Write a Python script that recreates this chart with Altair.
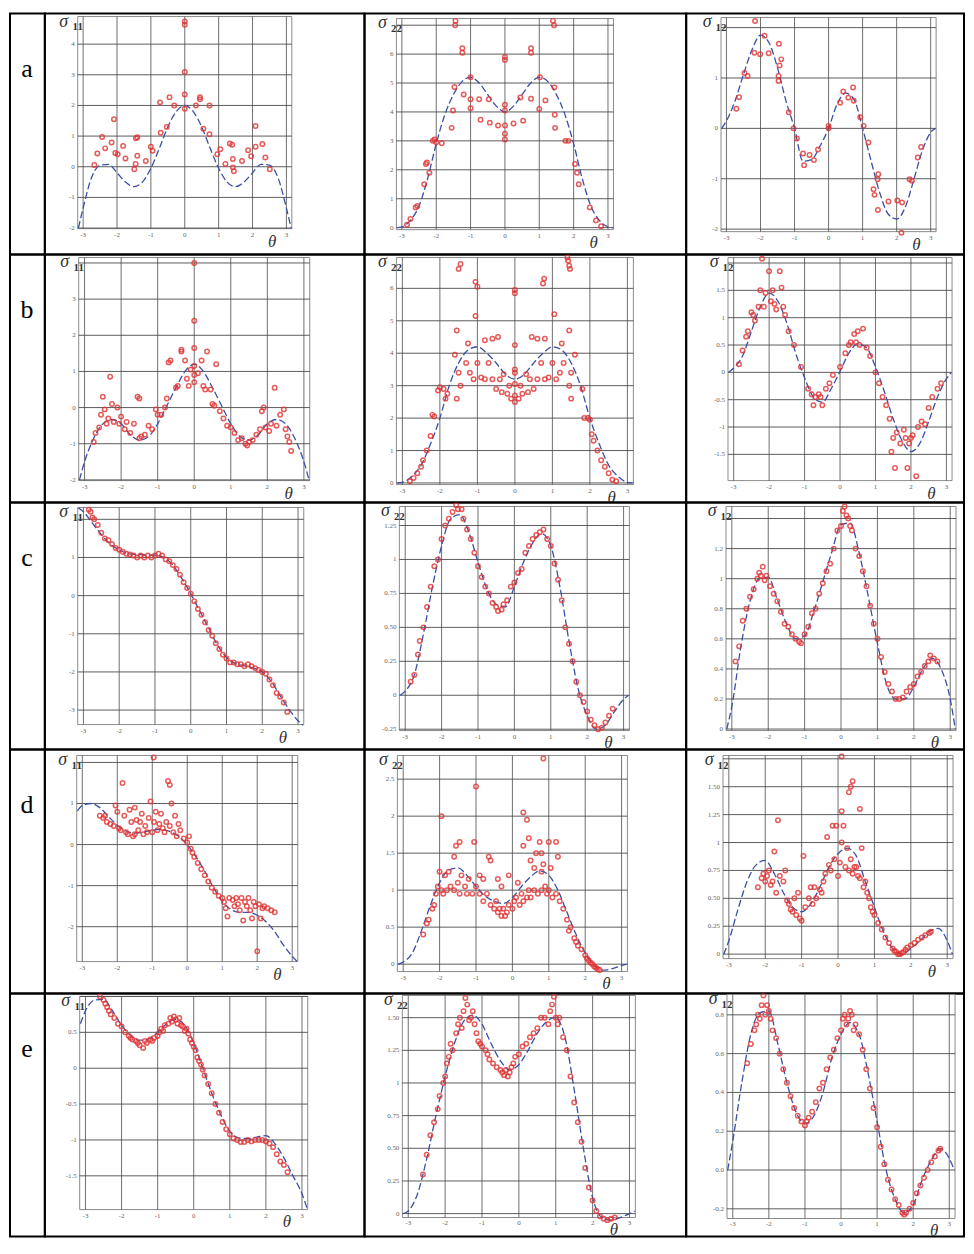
import altair as alt
import pandas as pd

SERIF = "Liberation Serif"
ROW_LETTERS = ["a", "b", "c", "d", "e"]
COMPONENTS = ["11", "22", "12"]
X_TICKS = [-3, -2, -1, 0, 1, 2, 3]
X_LABELS = ["-3", "-2", "-1", "0", "1", "2", "3"]
CURVE_T = [-3.14, -3.0, -2.75, -2.5, -2.25, -2.0, -1.75, -1.5, -1.25, -1.0, -0.75, -0.5, -0.25, 0.0,
           0.25, 0.5, 0.75, 1.0, 1.25, 1.5, 1.75, 2.0, 2.25, 2.5, 2.75, 3.0, 3.14]

# ---------------- dashed reference curves (values at CURVE_T) ----------------
A11_CURVE = [-2.0, -1.35, -0.35, 0.05, 0.08, -0.2, -0.5, -0.65, -0.5, -0.05, 0.6, 1.3, 1.8, 2.0, 1.8, 1.3, 0.6, -0.05, -0.5, -0.65, -0.5, -0.2, 0.08, 0.05, -0.35, -1.35, -2.0]
A22_CURVE = [0, 0.03, 0.25, 0.75, 1.7, 2.9, 3.9, 4.6, 5.05, 5.2, 5.0, 4.6, 4.2, 4.0, 4.2, 4.6, 5.0, 5.2, 5.05, 4.6, 3.9, 2.9, 1.7, 0.75, 0.25, 0.03, 0]
A12_CURVE = [0, 0.15, 0.54, 1.07, 1.56, 1.85, 1.7, 1.2, 0.54, 0.0, -0.65, -0.62, -0.35, 0.0, 0.48, 0.7, 0.57, 0.0, -0.65, -1.27, -1.7, -1.8, -1.57, -1.03, -0.45, -0.08, 0]
B11_CURVE = [-2.0, -1.5, -0.85, -0.45, -0.33, -0.45, -0.75, -0.9, -0.8, -0.45, 0.05, 0.55, 1.0, 1.2, 1.0, 0.55, 0.05, -0.45, -0.8, -0.9, -0.75, -0.45, -0.33, -0.45, -0.85, -1.5, -2.0]
B22_CURVE = [0, 0.02, 0.2, 0.55, 1.2, 2.0, 3.0, 3.7, 4.1, 4.2, 4.0, 3.7, 3.35, 3.2, 3.35, 3.7, 4.0, 4.2, 4.1, 3.7, 3.0, 2.0, 1.2, 0.55, 0.2, 0.02, 0]
B12_CURVE = [0, 0.08, 0.3, 0.75, 1.2, 1.45, 1.3, 0.9, 0.35, -0.1, -0.45, -0.55, -0.3, 0.02, 0.35, 0.52, 0.45, 0.1, -0.35, -0.85, -1.25, -1.45, -1.3, -0.9, -0.45, -0.12, 0]
C11_CURVE = [2.3, 2.2, 1.9, 1.6, 1.35, 1.2, 1.1, 1.08, 1.07, 1.06, 1.0, 0.8, 0.45, 0.05, -0.4, -0.85, -1.3, -1.62, -1.78, -1.84, -1.9, -2.0, -2.25, -2.62, -2.98, -3.28, -3.4]
C22_CURVE = [0, 0.03, 0.15, 0.45, 0.8, 1.1, 1.3, 1.33, 1.2, 0.98, 0.78, 0.67, 0.65, 0.8, 0.98, 1.12, 1.19, 1.1, 0.8, 0.4, 0.05, -0.15, -0.25, -0.22, -0.12, -0.03, 0]
C12_CURVE = [0, 0.15, 0.55, 0.85, 1.0, 1.01, 0.86, 0.7, 0.6, 0.62, 0.78, 0.98, 1.18, 1.36, 1.37, 1.17, 0.88, 0.57, 0.3, 0.2, 0.2, 0.28, 0.4, 0.47, 0.4, 0.2, 0]
D11_CURVE = [0.82, 0.95, 1.0, 0.9, 0.68, 0.47, 0.33, 0.28, 0.3, 0.35, 0.37, 0.32, 0.2, 0.0, -0.3, -0.65, -1.05, -1.38, -1.58, -1.65, -1.65, -1.72, -1.88, -2.12, -2.45, -2.72, -2.85]
D22_CURVE = [0, 0.03, 0.15, 0.45, 0.8, 1.1, 1.27, 1.3, 1.2, 1.05, 0.92, 0.85, 0.82, 0.9, 1.05, 1.18, 1.26, 1.2, 1.0, 0.7, 0.4, 0.15, -0.02, -0.08, -0.06, -0.02, 0]
D12_CURVE = [0, 0.12, 0.4, 0.65, 0.8, 0.84, 0.72, 0.55, 0.42, 0.38, 0.45, 0.6, 0.78, 0.9, 0.95, 0.88, 0.65, 0.42, 0.2, 0.05, 0.0, 0.05, 0.12, 0.2, 0.23, 0.12, 0]
E11_CURVE = [0.62, 0.8, 0.95, 0.96, 0.8, 0.6, 0.46, 0.39, 0.41, 0.5, 0.62, 0.68, 0.6, 0.35, 0.0, -0.35, -0.65, -0.88, -0.97, -0.98, -0.96, -0.94, -1.05, -1.25, -1.5, -1.75, -1.95]
E22_CURVE = [0, 0.02, 0.15, 0.42, 0.75, 1.05, 1.3, 1.47, 1.52, 1.45, 1.3, 1.17, 1.1, 1.14, 1.25, 1.38, 1.47, 1.5, 1.35, 0.95, 0.5, 0.12, -0.03, -0.05, -0.03, 0.0, 0.02]
E12_CURVE = [0, 0.15, 0.45, 0.7, 0.81, 0.82, 0.65, 0.45, 0.3, 0.24, 0.28, 0.4, 0.58, 0.7, 0.76, 0.7, 0.5, 0.25, 0.0, -0.15, -0.22, -0.18, -0.05, 0.05, 0.11, 0.06, 0]

# ---------------- scattered estimates (theta, sigma) ----------------
A11_PTS = [(-2.67, 0.06), (-2.58, 0.43), (-2.44, 0.97), (-2.35, 0.6), (-2.16, 0.79), (-2.09, 1.55), (-2.05, 0.45), (-1.98, 0.41),
           (-1.82, 0.68), (-1.75, 0.27), (-1.44, 0.93), (-1.4, 0.96), (-1.4, 0.36), (-1.45, 0.09), (-1.49, -0.08), (-1.15, 0.19),
           (-1.0, 0.65), (-0.95, 0.52), (-0.71, 1.11), (-0.73, 2.1), (-0.53, 1.3), (-0.45, 2.27), (-0.31, 2.0), (0, 4.74), (0, 4.63),
           (0, 3.09), (0, 2.36), (0, 1.89), (0.33, 2.0), (0.45, 2.27), (0.45, 2.2), (0.55, 1.24), (0.73, 1.06), (0.73, 2.0),
           (0.96, 0.41), (1.05, 0.57), (1.2, 0.09), (1.33, 0.76), (1.4, 0.72), (1.42, 0.25), (1.42, -0.02), (1.45, -0.15),
           (1.69, 0.19), (1.87, 0.54), (1.96, 0.34), (2.09, 0.65), (2.09, 1.33), (2.29, 0.74), (2.38, 0.3), (2.51, -0.08)]
A22_PTS = [(-2.85, 0.1), (-2.75, 0.3), (-2.6, 0.7), (-2.55, 0.75), (-2.35, 1.5), (-2.3, 2.2), (-2.27, 2.25), (-2.2, 1.9), (-2.1, 3.0),
           (-2.05, 3.05), (-2.0, 2.95), (-1.84, 2.92), (-1.55, 3.45), (-1.51, 4.05), (-1.47, 4.86), (-1.45, 7.0), (-1.44, 7.15),
           (-1.24, 6.2), (-1.24, 6.05), (-1.2, 4.6), (-1.0, 4.13), (-1.0, 4.44), (-1.0, 5.2), (-0.75, 4.44), (-0.71, 3.73),
           (-0.47, 4.44), (-0.44, 3.63), (-0.2, 3.53), (0, 5.9), (0, 5.8), (0, 4.25), (0, 4.05), (0, 3.53), (0, 3.25), (0, 3.05),
           (0.25, 3.6), (0.45, 4.5), (0.53, 3.7), (0.76, 6.2), (0.76, 6.05), (0.76, 4.46), (1.0, 4.1), (1.02, 5.2), (1.18, 4.4),
           (1.4, 7.15), (1.43, 7.0), (1.44, 4.85), (1.45, 3.9), (1.46, 3.45), (1.76, 3.0), (1.85, 3.0), (2.04, 2.2), (2.1, 1.9),
           (2.15, 1.5), (2.47, 0.7), (2.65, 0.25), (2.8, 0.05)]
A12_PTS = [(-2.71, 0.39), (-2.63, 0.62), (-2.47, 1.1), (-2.38, 1.04), (-2.18, 1.5), (-2.16, 2.13), (-2.01, 1.47), (-1.88, 1.84),
           (-1.76, 1.49), (-1.46, 1.68), (-1.44, 1.25), (-1.39, 1.37), (-1.47, 1.04), (-1.47, 0.94), (-1.17, 0.32), (-1.03, 0.0),
           (-0.93, -0.2), (-0.75, -0.5), (-0.72, -0.73), (-0.56, -0.53), (-0.43, -0.63), (-0.31, -0.42), (0, 0.05), (0, 0.0),
           (0.34, 0.51), (0.43, 0.73), (0.58, 0.61), (0.72, 0.81), (0.74, 0.55), (0.93, 0.22), (1.03, 0.05), (1.17, -0.28),
           (1.32, -1.21), (1.35, -1.32), (1.44, -1.01), (1.46, -0.91), (1.45, -1.62), (1.76, -1.45), (2.02, -1.43), (2.16, -1.47),
           (2.14, -2.07), (2.38, -1.01), (2.45, -1.04), (2.62, -0.58), (2.72, -0.37)]
B11_PTS = [(-2.7, -0.7), (-2.75, -0.95), (-2.6, -0.55), (-2.55, -0.2), (-2.5, 0.3), (-2.45, -0.05), (-2.4, -0.45), (-2.35, -0.3),
           (-2.3, 0.85), (-2.25, 0.1), (-2.2, -0.4), (-2.1, 0.0), (-2.05, -0.45), (-2.0, -0.25), (-1.9, -0.6), (-1.85, -0.4),
           (-1.75, -0.7), (-1.65, -0.45), (-1.55, 0.3), (-1.5, 0.25), (-1.5, -0.85), (-1.45, -0.8), (-1.35, -0.75), (-1.25, -0.5),
           (-1.15, -0.6), (-1.05, -0.05), (-1.0, -0.2), (-0.9, -0.2), (-0.8, 0.0), (-0.75, 0.25), (-0.7, 1.25), (-0.65, 1.3),
           (-0.5, 0.55), (-0.45, 0.6), (-0.35, 1.55), (-0.35, 1.6), (-0.25, 1.3), (-0.2, 0.8), (-0.15, 0.6), (-0.1, 1.05),
           (0, 4.0), (0, 2.4), (0, 1.65), (0, 1.15), (0, 0.9), (0, 0.7), (0.1, 0.95), (0.2, 1.3), (0.25, 0.6), (0.3, 0.5),
           (0.35, 1.55), (0.45, 0.5), (0.5, 0.1), (0.55, 0.05), (0.6, 1.2), (0.7, -0.1), (0.8, -0.3), (0.9, -0.5), (1.0, -0.55),
           (1.1, -0.7), (1.2, -0.9), (1.3, -0.85), (1.4, -1.0), (1.45, -1.05), (1.5, -0.95), (1.6, -0.9), (1.7, -0.75),
           (1.8, -0.6), (1.85, -0.1), (1.9, 0.0), (1.95, -0.55), (2.05, -0.65), (2.1, -0.45), (2.2, 0.55), (2.25, -0.5),
           (2.35, -0.2), (2.45, -0.05), (2.5, -0.6), (2.55, -0.8), (2.6, -0.95), (2.65, -1.2)]
B22_PTS = [(-1.5, 6.6), (-1.45, 6.75), (-1.05, 6.2), (-1.0, 6.05), (0, 5.95), (0, 5.85), (0.75, 6.15), (0.78, 6.3), (1.4, 6.95),
           (1.42, 6.85), (1.45, 6.7), (1.47, 6.6), (-1.55, 4.7), (-1.05, 5.15), (1.05, 5.2), (1.45, 4.7), (-0.6, 4.45),
           (-0.45, 4.5), (0, 4.25), (0.45, 4.5), (0.6, 4.45), (-1.25, 4.3), (1.25, 4.3), (-0.8, 4.4), (0.8, 4.45),
           (-1.6, 3.95), (-1.5, 3.4), (-1.45, 3.0), (-1.3, 3.7), (-1.2, 3.4), (-1.1, 3.2), (-1.0, 3.7), (-0.9, 3.25), (-0.8, 3.2),
           (-0.7, 3.7), (-0.6, 3.2), (-0.5, 2.9), (-0.4, 3.2), (-0.35, 2.8), (-0.3, 3.35), (-0.2, 2.75), (-0.15, 3.0), (-0.1, 2.6),
           (0, 3.5), (0, 3.4), (0, 3.05), (0, 2.7), (0, 2.5), (0.1, 2.6), (0.15, 3.0), (0.2, 2.75), (0.3, 3.35), (0.35, 2.8),
           (0.4, 3.2), (0.5, 2.9), (0.6, 3.2), (0.7, 3.7), (0.8, 3.2), (0.9, 3.25), (1.0, 3.7), (1.1, 3.2), (1.2, 3.4), (1.3, 3.7),
           (1.45, 3.0), (1.5, 3.4), (1.6, 3.95), (1.5, 2.6), (-1.55, 2.6), (-2.8, 0.05), (-2.7, 0.15), (-2.6, 0.3), (-2.5, 0.5),
           (-2.45, 0.7), (-2.35, 1.0), (-2.25, 1.45), (-2.2, 2.1), (-2.15, 2.05), (-2.05, 2.85), (-2.0, 2.95), (-1.9, 2.9),
           (-1.85, 2.6), (-1.8, 2.75), (1.8, 2.9), (1.85, 2.0), (1.95, 2.0), (2.0, 1.95), (2.05, 1.5), (2.1, 1.3), (2.2, 1.0),
           (2.3, 0.7), (2.4, 0.5), (2.5, 0.3), (2.6, 0.1), (2.7, 0.05)]
B12_PTS = [(-2.85, 0.15), (-2.75, 0.4), (-2.65, 0.65), (-2.6, 0.75), (-2.5, 1.1), (-2.45, 1.05), (-2.4, 0.95), (-2.3, 1.2),
           (-2.25, 1.5), (-2.2, 2.08), (-2.15, 1.2), (-2.1, 1.45), (-2.0, 1.85), (-1.95, 1.3), (-1.9, 1.5), (-1.85, 1.25),
           (-1.8, 1.15), (-1.7, 1.85), (-1.65, 1.55), (-1.6, 1.2), (-1.55, 1.05), (-1.45, 0.75), (-1.3, 0.5), (-1.1, 0.1),
           (-0.9, -0.3), (-0.8, -0.4), (-0.75, -0.6), (-0.7, -0.45), (-0.6, -0.4), (-0.55, -0.45), (-0.5, -0.6), (-0.4, -0.3),
           (-0.3, -0.2), (-0.2, -0.05), (0, 0.1), (0.15, 0.35), (0.25, 0.5), (0.3, 0.55), (0.4, 0.7), (0.45, 0.55), (0.5, 0.75),
           (0.55, 0.5), (0.65, 0.8), (0.75, 0.45), (0.85, 0.3), (1.0, 0.0), (1.1, -0.2), (1.2, -0.45), (1.3, -0.6), (1.4, -0.85),
           (1.45, -1.45), (1.5, -1.2), (1.55, -1.75), (1.6, -1.1), (1.7, -1.3), (1.8, -1.05), (1.85, -1.2), (1.9, -1.75),
           (1.95, -1.3), (2.0, -1.2), (2.05, -1.15), (2.15, -1.9), (2.2, -1.0), (2.3, -0.9), (2.4, -0.95), (2.5, -0.65),
           (2.6, -0.45), (2.75, -0.3), (2.85, -0.2)]
C11_PTS = [(-2.85, 2.25), (-2.8, 2.2), (-2.75, 2.05), (-2.7, 2.0), (-2.6, 1.85), (-2.5, 1.65), (-2.4, 1.5), (-2.3, 1.45), (-2.2, 1.35),
           (-2.1, 1.25), (-2.0, 1.2), (-1.9, 1.15), (-1.8, 1.1), (-1.7, 1.08), (-1.6, 1.05), (-1.5, 1.0), (-1.4, 1.05), (-1.3, 1.0),
           (-1.2, 1.05), (-1.1, 1.0), (-1.0, 1.05), (-0.9, 1.1), (-0.8, 1.05), (-0.7, 0.95), (-0.6, 0.9), (-0.5, 0.8), (-0.4, 0.7),
           (-0.3, 0.55), (-0.2, 0.35), (-0.1, 0.2), (0.0, 0.05), (0.1, -0.15), (0.2, -0.35), (0.3, -0.5), (0.4, -0.7), (0.5, -0.9),
           (0.6, -1.05), (0.7, -1.25), (0.8, -1.4), (0.9, -1.55), (1.0, -1.65), (1.1, -1.75), (1.2, -1.75), (1.3, -1.8), (1.4, -1.8),
           (1.5, -1.85), (1.6, -1.8), (1.7, -1.85), (1.8, -1.9), (1.9, -1.95), (2.0, -2.0), (2.1, -2.05), (2.2, -2.2), (2.3, -2.35),
           (2.4, -2.55), (2.5, -2.65), (2.6, -2.8), (2.7, -3.05)]
C22_PTS = [(-2.85, 0.1), (-2.75, 0.15), (-2.65, 0.3), (-2.6, 0.4), (-2.5, 0.5), (-2.4, 0.65), (-2.3, 0.8), (-2.2, 0.95), (-2.1, 1.0),
           (-2.0, 1.15), (-1.9, 1.25), (-1.8, 1.3), (-1.7, 1.35), (-1.6, 1.4), (-1.55, 1.37), (-1.45, 1.37), (-1.4, 1.3), (-1.3, 1.22),
           (-1.2, 1.15), (-1.1, 1.05), (-1.0, 0.95), (-0.9, 0.87), (-0.8, 0.8), (-0.7, 0.75), (-0.6, 0.68), (-0.5, 0.65), (-0.45, 0.62),
           (-0.35, 0.63), (-0.3, 0.67), (-0.2, 0.7), (-0.1, 0.8), (0, 0.83), (0.1, 0.9), (0.2, 0.93), (0.3, 1.05), (0.4, 1.1),
           (0.5, 1.15), (0.6, 1.18), (0.7, 1.2), (0.8, 1.22), (0.9, 1.15), (1.0, 1.1), (1.1, 0.97), (1.2, 0.85), (1.3, 0.7),
           (1.4, 0.5), (1.5, 0.38), (1.6, 0.25), (1.7, 0.1), (1.8, 0.0), (1.9, -0.05), (2.0, -0.12), (2.1, -0.18), (2.2, -0.22),
           (2.3, -0.25), (2.4, -0.24), (2.5, -0.2), (2.6, -0.15), (2.7, -0.1)]
C12_PTS = [(-2.9, 0.45), (-2.8, 0.55), (-2.7, 0.72), (-2.6, 0.8), (-2.5, 0.88), (-2.4, 0.93), (-2.3, 1.0), (-2.25, 1.04), (-2.2, 1.02),
           (-2.15, 1.08), (-2.1, 0.99), (-2.05, 1.02), (-1.95, 0.95), (-1.85, 0.9), (-1.75, 0.85), (-1.65, 0.78), (-1.55, 0.7),
           (-1.45, 0.68), (-1.35, 0.63), (-1.25, 0.6), (-1.15, 0.58), (-1.1, 0.57), (-1.0, 0.63), (-0.9, 0.68), (-0.8, 0.77),
           (-0.7, 0.8), (-0.6, 0.9), (-0.5, 0.97), (-0.4, 1.05), (-0.3, 1.1), (-0.2, 1.2), (-0.1, 1.32), (0.0, 1.35), (0.05, 1.45),
           (0.1, 1.48), (0.15, 1.42), (0.2, 1.4), (0.25, 1.35), (0.3, 1.32), (0.4, 1.2), (0.5, 1.15), (0.6, 1.05), (0.7, 0.95),
           (0.8, 0.82), (0.9, 0.7), (1.0, 0.6), (1.1, 0.48), (1.2, 0.38), (1.3, 0.3), (1.4, 0.25), (1.5, 0.2), (1.6, 0.2),
           (1.7, 0.21), (1.8, 0.25), (1.9, 0.28), (2.0, 0.3), (2.1, 0.35), (2.2, 0.38), (2.3, 0.42), (2.4, 0.45), (2.45, 0.49),
           (2.55, 0.47), (2.65, 0.45)]
D11_PTS = [(-2.5, 0.7), (-2.4, 0.65), (-2.35, 0.7), (-2.3, 0.55), (-2.2, 0.5), (-2.1, 0.45), (-2.05, 0.95), (-2.0, 0.8), (-1.95, 0.4),
           (-1.9, 0.35), (-1.85, 1.5), (-1.8, 0.7), (-1.75, 0.3), (-1.7, 0.25), (-1.65, 0.85), (-1.6, 0.55), (-1.55, 0.2), (-1.5, 0.9),
           (-1.5, 0.25), (-1.45, 0.6), (-1.4, 0.35), (-1.35, 0.55), (-1.3, 0.75), (-1.25, 0.25), (-1.2, 0.45), (-1.15, 0.3),
           (-1.1, 0.65), (-1.05, 1.05), (-1.0, 0.3), (-0.96, 2.12), (-0.95, 0.55), (-0.9, 0.8), (-0.85, 0.35), (-0.8, 0.5),
           (-0.75, 0.75), (-0.7, 0.4), (-0.65, 0.3), (-0.6, 0.55), (-0.55, 1.55), (-0.5, 1.45), (-0.5, 0.45), (-0.45, 1.0),
           (-0.4, 0.3), (-0.35, 0.7), (-0.3, 0.2), (-0.25, 0.5), (-0.2, 0.35), (-0.1, 0.15), (0.0, 0.05), (0.05, 0.2), (0.1, -0.1),
           (0.15, -0.2), (0.2, -0.3), (0.3, -0.45), (0.4, -0.6), (0.5, -0.75), (0.6, -0.9), (0.7, -1.05), (0.8, -1.15), (0.9, -1.25),
           (1.0, -1.3), (1.05, -1.4), (1.1, -1.55), (1.15, -1.75), (1.2, -1.3), (1.3, -1.35), (1.35, -1.5), (1.4, -1.3), (1.45, -1.45),
           (1.5, -1.6), (1.55, -1.3), (1.6, -1.85), (1.65, -1.4), (1.7, -1.5), (1.75, -1.3), (1.8, -1.6), (1.85, -1.8), (1.9, -1.4),
           (1.95, -1.5), (2.0, -2.6), (2.05, -1.45), (2.1, -1.8), (2.15, -1.55), (2.2, -1.5), (2.3, -1.55), (2.4, -1.6), (2.5, -1.65)]
D22_PTS = [(-1.95, 2.0), (-1.6, 1.45), (-1.55, 1.6), (-1.45, 1.65), (-1.05, 1.65), (-1.0, 2.4), (-0.65, 1.45), (-0.6, 1.4), (-0.1, 1.2),
           (0.15, 1.1), (0.3, 1.6), (0.3, 2.05), (0.4, 1.95), (0.45, 1.7), (0.5, 1.4), (0.6, 1.3), (0.65, 1.5), (0.85, 2.78),
           (0.75, 1.65), (0.8, 1.5), (0.85, 1.35), (1.0, 1.65), (1.05, 1.3), (1.2, 1.65), (1.25, 1.45), (0.8, 1.25), (-0.9, 1.2),
           (-0.8, 1.15), (-0.4, 1.15), (-0.3, 1.05), (-2.45, 0.4), (-2.35, 0.55), (-2.3, 0.6), (-2.2, 0.75), (-2.15, 0.8), (-2.1, 0.95),
           (-2.05, 1.05), (-2.0, 1.25), (-1.95, 1.0), (-1.9, 0.95), (-1.85, 1.2), (-1.8, 1.0), (-1.75, 1.25), (-1.7, 1.05), (-1.6, 1.0),
           (-1.5, 1.1), (-1.45, 0.95), (-1.4, 1.2), (-1.3, 1.05), (-1.25, 0.95), (-1.2, 1.15), (-1.1, 0.95), (-1.0, 1.05), (-0.9, 0.95),
           (-0.8, 0.85), (-0.7, 0.95), (-0.6, 0.8), (-0.5, 0.75), (-0.45, 0.85), (-0.4, 0.7), (-0.35, 0.75), (-0.3, 0.65), (-0.25, 0.75),
           (-0.2, 0.65), (-0.15, 0.7), (-0.1, 0.8), (0.0, 0.75), (0.05, 0.85), (0.1, 0.9), (0.2, 0.8), (0.25, 0.95), (0.3, 0.85),
           (0.4, 0.9), (0.45, 1.0), (0.5, 0.9), (0.6, 1.0), (0.7, 0.95), (0.8, 1.0), (0.9, 1.05), (0.95, 0.95), (1.0, 1.0), (1.1, 0.9),
           (1.2, 0.95), (1.3, 0.85), (1.4, 0.75), (1.5, 0.6), (1.55, 0.45), (1.6, 0.5), (1.7, 0.35), (1.75, 0.3), (1.8, 0.25),
           (1.9, 0.2), (2.0, 0.12), (2.05, 0.08), (2.1, 0.05), (2.15, 0.02), (2.2, 0.0), (2.25, -0.03), (2.3, -0.05), (2.35, -0.07),
           (2.4, -0.08)]
D12_PTS = [(-2.2, 0.6), (-2.1, 0.68), (-2.05, 0.72), (-2.0, 0.65), (-1.95, 0.7), (-1.9, 0.75), (-1.85, 0.62), (-1.8, 0.65), (-1.75, 0.92),
           (-1.7, 0.55), (-1.65, 1.2), (-1.6, 0.7), (-1.5, 0.65), (-1.45, 0.75), (-1.4, 0.48), (-1.35, 0.45), (-1.3, 0.4), (-1.25, 0.38),
           (-1.2, 0.5), (-1.15, 0.35), (-1.1, 0.55), (-1.05, 0.32), (-1.0, 0.3), (-0.95, 0.88), (-0.9, 0.42), (-0.8, 0.5), (-0.75, 0.6),
           (-0.7, 0.45), (-0.65, 0.6), (-0.6, 0.5), (-0.5, 0.58), (-0.45, 0.55), (-0.4, 0.65), (-0.35, 0.72), (-0.3, 1.05), (-0.25, 0.8),
           (-0.2, 0.75), (-0.15, 1.15), (-0.1, 0.85), (-0.05, 1.15), (0.0, 0.7), (0.05, 0.82), (0.1, 1.28), (0.1, 1.0), (0.1, 1.77),
           (0.15, 1.15), (0.2, 0.78), (0.25, 0.95), (0.3, 1.45), (0.35, 1.5), (0.4, 1.55), (0.3, 0.75), (0.35, 0.85), (0.4, 0.72),
           (0.45, 0.78), (0.5, 0.78), (0.55, 0.7), (0.6, 1.3), (0.6, 0.68), (0.65, 0.95), (0.7, 0.6), (0.75, 0.65), (0.8, 0.55),
           (0.85, 0.5), (0.9, 0.42), (0.95, 0.38), (1.0, 0.35), (1.1, 0.28), (1.2, 0.22), (1.3, 0.15), (1.4, 0.1), (1.5, 0.05),
           (1.55, 0.03), (1.6, 0.02), (1.65, 0.0), (1.7, 0.0), (1.75, 0.01), (1.8, 0.02), (1.85, 0.04), (1.9, 0.06), (2.0, 0.08),
           (2.1, 0.1), (2.2, 0.13), (2.3, 0.15), (2.4, 0.17), (2.5, 0.19), (2.55, 0.2)]
E11_PTS = [(-2.6, 1.0), (-2.5, 0.95), (-2.45, 0.9), (-2.4, 0.85), (-2.35, 0.8), (-2.3, 0.75), (-2.2, 0.7), (-2.1, 0.62), (-2.0, 0.58),
           (-1.9, 0.5), (-1.8, 0.45), (-1.75, 0.42), (-1.7, 0.4), (-1.6, 0.38), (-1.55, 0.35), (-1.5, 0.32), (-1.4, 0.28), (-1.35, 0.38),
           (-1.3, 0.35), (-1.2, 0.4), (-1.15, 0.38), (-1.1, 0.42), (-1.0, 0.45), (-0.95, 0.5), (-0.9, 0.55), (-0.85, 0.52), (-0.8, 0.6),
           (-0.7, 0.62), (-0.65, 0.7), (-0.6, 0.65), (-0.55, 0.72), (-0.5, 0.68), (-0.45, 0.62), (-0.4, 0.7), (-0.35, 0.6), (-0.3, 0.58),
           (-0.25, 0.52), (-0.2, 0.55), (-0.15, 0.48), (-0.1, 0.4), (-0.05, 0.35), (0.0, 0.3), (0.05, 0.25), (0.1, 0.15), (0.15, 0.1),
           (0.2, 0.05), (0.25, -0.02), (0.3, -0.1), (0.4, -0.22), (0.5, -0.35), (0.6, -0.5), (0.7, -0.62), (0.8, -0.75), (0.9, -0.85),
           (1.0, -0.92), (1.1, -0.98), (1.2, -1.0), (1.3, -1.03), (1.4, -1.03), (1.5, -1.0), (1.6, -1.02), (1.7, -1.0), (1.8, -1.0),
           (1.9, -1.0), (2.0, -1.02), (2.1, -1.05), (2.2, -1.1), (2.3, -1.2), (2.4, -1.3), (2.5, -1.35), (2.6, -1.45)]
E22_PTS = [(-2.6, 0.3), (-2.5, 0.45), (-2.4, 0.6), (-2.3, 0.7), (-2.2, 0.8), (-2.15, 0.9), (-2.05, 1.0), (-2.0, 1.05), (-1.95, 1.15),
           (-1.9, 1.2), (-1.85, 1.3), (-1.8, 1.25), (-1.7, 1.38), (-1.65, 1.45), (-1.6, 1.5), (-1.55, 1.42), (-1.5, 1.55), (-1.45, 1.65),
           (-1.4, 1.6), (-1.35, 1.48), (-1.3, 1.5), (-1.25, 1.55), (-1.2, 1.45), (-1.15, 1.38), (-1.1, 1.32), (-1.05, 1.3), (-1.0, 1.28),
           (-0.9, 1.25), (-0.85, 1.22), (-0.8, 1.18), (-0.7, 1.15), (-0.6, 1.12), (-0.5, 1.1), (-0.45, 1.08), (-0.4, 1.06), (-0.35, 1.1),
           (-0.3, 1.05), (-0.25, 1.08), (-0.2, 1.12), (-0.15, 1.15), (-0.1, 1.2), (0.0, 1.22), (0.1, 1.28), (0.2, 1.3), (0.3, 1.35),
           (0.4, 1.38), (0.5, 1.42), (0.6, 1.5), (0.7, 1.5), (0.8, 1.45), (0.85, 1.55), (0.9, 1.6), (0.95, 1.66), (1.0, 1.5),
           (1.05, 1.45), (1.1, 1.5), (1.2, 1.35), (1.3, 1.25), (1.4, 1.05), (1.5, 0.85), (1.6, 0.7), (1.7, 0.55), (1.8, 0.35),
           (1.9, 0.2), (2.0, 0.1), (2.1, 0.02), (2.2, -0.02), (2.3, -0.04), (2.4, -0.05), (2.5, -0.04), (2.6, -0.03)]
E12_PTS = [(-2.6, 0.55), (-2.5, 0.65), (-2.4, 0.72), (-2.35, 0.75), (-2.3, 0.8), (-2.25, 0.78), (-2.2, 0.85), (-2.15, 0.9), (-2.1, 0.8),
           (-2.05, 0.85), (-2.0, 0.82), (-1.95, 0.78), (-1.9, 0.72), (-1.8, 0.68), (-1.7, 0.6), (-1.6, 0.52), (-1.5, 0.45), (-1.4, 0.38),
           (-1.3, 0.32), (-1.2, 0.28), (-1.1, 0.25), (-1.0, 0.23), (-0.95, 0.25), (-0.9, 0.27), (-0.8, 0.3), (-0.7, 0.35), (-0.6, 0.42),
           (-0.5, 0.45), (-0.4, 0.52), (-0.3, 0.58), (-0.2, 0.62), (-0.1, 0.68), (0.0, 0.72), (0.05, 0.78), (0.1, 0.8), (0.15, 0.75),
           (0.2, 0.78), (0.25, 0.82), (0.3, 0.8), (0.35, 0.72), (0.4, 0.75), (0.5, 0.7), (0.6, 0.62), (0.7, 0.52), (0.8, 0.42),
           (0.9, 0.32), (1.0, 0.22), (1.1, 0.12), (1.2, 0.03), (1.3, -0.05), (1.4, -0.1), (1.5, -0.15), (1.6, -0.18), (1.7, -0.22),
           (1.75, -0.23), (1.8, -0.22), (1.9, -0.2), (2.0, -0.17), (2.1, -0.12), (2.2, -0.08), (2.3, -0.04), (2.4, 0.0), (2.5, 0.04),
           (2.6, 0.07), (2.7, 0.1), (2.75, 0.11)]

# ---------------- y ticks / labels ("" = unlabeled grid line) ----------------
A11_YT, A11_YL = [-2, -1, 0, 1, 2, 3, 4], ["-2", "-1", "0", "1", "2", "3", "4"]
A22_YT, A22_YL = [0, 1, 2, 3, 4, 5, 6, 7], ["0", "1", "2", "3", "4", "5", "6", ""]
A12_YT, A12_YL = [-2, -1, 0, 1, 2], ["-2", "-1", "0", "1", ""]
B11_YT, B11_YL = [-2, -1, 0, 1, 2, 3, 4], ["-2", "-1", "0", "1", "2", "3", ""]
B22_YT, B22_YL = [0, 1, 2, 3, 4, 5, 6], ["0", "1", "2", "3", "4", "5", "6"]
B12_YT, B12_YL = [-1.5, -1, -0.5, 0, 0.5, 1, 1.5, 2], ["-1.5", "-1", "-0.5", "0", "0.5", "1", "1.5", ""]
C11_YT, C11_YL = [-3, -2, -1, 0, 1, 2], ["-3", "-2", "-1", "0", "1", ""]
C22_YT, C22_YL = [-0.25, 0, 0.25, 0.5, 0.75, 1, 1.25], ["-0.25", "0", "0.25", "0.50", "0.75", "1", "1.25"]
C12_YT, C12_YL = [0, 0.2, 0.4, 0.6, 0.8, 1, 1.2, 1.4], ["0", "0.2", "0.4", "0.6", "0.8", "1", "1.2", ""]
D11_YT, D11_YL = [-2, -1, 0, 1, 2], ["-2", "-1", "0", "1", ""]
D22_YT, D22_YL = [0, 0.5, 1, 1.5, 2, 2.5], ["0", "0.5", "1", "1.5", "2", "2.5"]
D12_YT, D12_YL = [0, 0.25, 0.5, 0.75, 1, 1.25, 1.5, 1.75], ["0", "0.25", "0.50", "0.75", "1", "1.25", "1.50", ""]
E11_YT, E11_YL = [-1.5, -1, -0.5, 0, 0.5, 1], ["-1.5", "-1", "-0.5", "0", "0.5", ""]
E22_YT, E22_YL = [0, 0.25, 0.5, 0.75, 1, 1.25, 1.5], ["0", "0.25", "0.50", "0.75", "1", "1.25", "1.50"]
E12_YT, E12_YL = [-0.2, 0, 0.2, 0.4, 0.6, 0.8], ["-0.2", "0.0", "0.2", "0.4", "0.6", "0.8"]

# y domains per panel
YDOM = {
    "a11": (-2.02, 4.9), "a22": (-0.07, 7.23), "a12": (-2.05, 2.2),
    "b11": (-2.02, 4.15), "b22": (-0.05, 6.95), "b12": (-1.98, 2.1),
    "c11": (-3.38, 2.31), "c22": (-0.26, 1.39), "c12": (-0.01, 1.48),
    "d11": (-2.85, 2.17), "d22": (-0.1, 2.82), "d12": (-0.04, 1.78),
    "e11": (-1.97, 1.0), "e22": (-0.03, 1.67), "e12": (-0.25, 0.905),
}
X_DOM = (-3.16, 3.16)

# ---------------- layout (pixels inside each table cell) ----------------
COL_W = [35, 321, 323, 279]
ROW_H = [242, 249, 248, 245, 244]
BOX = {  # left, right, top, bottom of the plot frame inside a cell
    "a11": (33, 248, 3, 216), "a22": (32, 250, 5, 217), "a12": (35, 251, 4, 219),
    "b11": (34, 266, 3, 227), "b22": (32, 270, 3, 231), "b12": (42, 267, 3, 227),
    "c11": (33, 260, 5, 223), "c22": (35, 266, 4, 229), "c12": (40, 271, 4, 229),
    "d11": (32, 254, 6, 213), "d22": (33, 264, 6, 223), "d12": (37, 268, 6, 210),
    "e11": (35, 264, 3, 217), "e22": (38, 272, 2, 225), "e12": (41, 270, 1, 226),
}
THETA_LABEL_X = 2.58

GRID = "#4a4a4a"
FRAME = "#8a8a8a"
TICK = "#666666"
RED = "#e23232"
BLUE = "#3b4fa6"

PANELS = {
    "a11": (A11_CURVE, A11_PTS, A11_YT, A11_YL), "a22": (A22_CURVE, A22_PTS, A22_YT, A22_YL), "a12": (A12_CURVE, A12_PTS, A12_YT, A12_YL),
    "b11": (B11_CURVE, B11_PTS, B11_YT, B11_YL), "b22": (B22_CURVE, B22_PTS, B22_YT, B22_YL), "b12": (B12_CURVE, B12_PTS, B12_YT, B12_YL),
    "c11": (C11_CURVE, C11_PTS, C11_YT, C11_YL), "c22": (C22_CURVE, C22_PTS, C22_YT, C22_YL), "c12": (C12_CURVE, C12_PTS, C12_YT, C12_YL),
    "d11": (D11_CURVE, D11_PTS, D11_YT, D11_YL), "d22": (D22_CURVE, D22_PTS, D22_YT, D22_YL), "d12": (D12_CURVE, D12_PTS, D12_YT, D12_YL),
    "e11": (E11_CURVE, E11_PTS, E11_YT, E11_YL), "e22": (E22_CURVE, E22_PTS, E22_YT, E22_YL), "e12": (E12_CURVE, E12_PTS, E12_YT, E12_YL),
}


def panel(key, sub, w, h):
    curve, pts, yt, yl = PANELS[key]
    L, R, T, B = BOX[key]
    y0, y1 = YDOM[key]
    x0, x1 = X_DOM
    xs = alt.Scale(domain=[x0, x1], range=[L, R], nice=False, zero=False)
    ys = alt.Scale(domain=[y0, y1], range=[B, T], nice=False, zero=False)

    def X(f):
        return alt.X(f, type="quantitative", scale=xs, axis=None)

    def Y(f):
        return alt.Y(f, type="quantitative", scale=ys, axis=None)

    frame_df = pd.DataFrame({"xa": [x0], "xb": [x1], "ya": [y0], "yb": [y1]})
    vg_df = pd.DataFrame({"t": X_TICKS, "lo": [y0] * len(X_TICKS), "hi": [y1] * len(X_TICKS), "lab": X_LABELS})
    hg_df = pd.DataFrame({"v": yt, "lo": [x0] * len(yt), "hi": [x1] * len(yt), "lab": yl})
    curve_df = pd.DataFrame({"t": CURVE_T, "v": curve})
    pts_df = pd.DataFrame(pts, columns=["t", "v"])
    corner_df = pd.DataFrame({"xa": [x0], "yb": [y1]})
    theta_df = pd.DataFrame({"t": [THETA_LABEL_X], "lo": [y0]})

    vgrid = alt.Chart(vg_df).mark_rule(color=GRID, strokeWidth=0.8).encode(x=X("t"), y=Y("lo"), y2="hi")
    hgrid = alt.Chart(hg_df).mark_rule(color=GRID, strokeWidth=0.9).encode(y=Y("v"), x=X("lo"), x2="hi")
    frame = alt.Chart(frame_df).mark_rect(fillOpacity=0, stroke=FRAME, strokeWidth=1).encode(
        x=X("xa"), x2="xb", y=Y("ya"), y2="yb")
    line = alt.Chart(curve_df).mark_line(color=BLUE, strokeDash=[7, 3], strokeWidth=1.3,
                                         interpolate="monotone").encode(x=X("t"), y=Y("v"))
    dots = alt.Chart(pts_df).mark_point(shape="circle", filled=False, size=20, strokeWidth=1.5,
                                        color=RED, opacity=0.8, clip=True).encode(x=X("t"), y=Y("v"))
    ylab = alt.Chart(hg_df).mark_text(align="right", baseline="middle", dx=-3, fontSize=7,
                                      color=TICK, font=SERIF).encode(x=X("lo"), y=Y("v"), text="lab:N")
    xlab = alt.Chart(vg_df).mark_text(align="center", baseline="middle", dy=6, fontSize=7,
                                      color=TICK, font=SERIF).encode(x=X("t"), y=Y("lo"), text="lab:N")
    sig = alt.Chart(corner_df).mark_text(text="σ", align="center", baseline="alphabetic", dx=-14, dy=10,
                                         fontSize=18, font=SERIF, fontStyle="italic", color="#333").encode(
        x=X("xa"), y=Y("yb"))
    subt = alt.Chart(corner_df).mark_text(text=sub, align="center", baseline="alphabetic", dx=0, dy=14,
                                          fontSize=11, font=SERIF, fontWeight="bold", color="#333").encode(
        x=X("xa"), y=Y("yb"))
    th = alt.Chart(theta_df).mark_text(text="θ", align="center", baseline="middle", dy=13, fontSize=17,
                                       font=SERIF, fontStyle="italic", color="#333").encode(x=X("t"), y=Y("lo"))
    return alt.layer(frame, vgrid, hgrid, line, dots, ylab, xlab, sig, subt, th).properties(width=w, height=h)


def label_cell(letter, h):
    df = pd.DataFrame({"lab": [letter]})
    return alt.Chart(df).mark_text(fontSize=26, font=SERIF, color="black", baseline="middle").encode(
        x=alt.value(17), y=alt.value(56), text="lab:N").properties(width=COL_W[0], height=h)


cells = []
for r, letter in enumerate(ROW_LETTERS):
    h = ROW_H[r]
    cells.append(label_cell(letter, h))
    for c, comp in enumerate(COMPONENTS):
        cells.append(panel(letter + comp, comp, COL_W[c + 1], h))

chart = alt.concat(*cells, columns=4, spacing=0, bounds="flush", align="each").properties(padding=1).configure_view(
    stroke="black", strokeWidth=2)

chart.save("out.html", embed_options={"renderer": "svg", "actions": False})
